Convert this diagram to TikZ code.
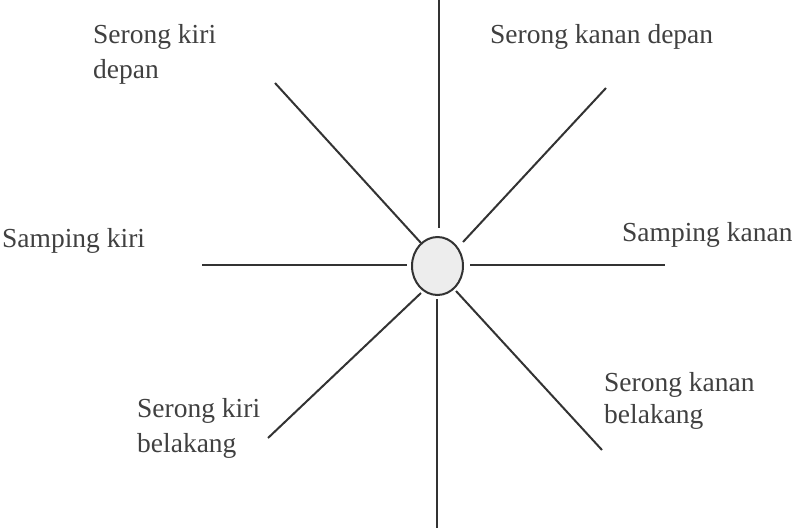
\documentclass[tikz,border=0pt]{standalone}
\usepackage{fontspec}
\setmainfont{Liberation Serif}
\usetikzlibrary{shapes.geometric}
\begin{document}
\begin{tikzpicture}[x=1pt,y=-1pt,
  ray/.style={draw=black!80, line width=2pt},
  lbl/.style={anchor=base west, inner sep=0pt, text=black!75, font=\fontsize{27.5}{34.5}\selectfont, align=left},
  hub/.style={ellipse, draw=black!80, line width=2pt, fill=black!7, minimum width=51pt, minimum height=58pt, inner sep=0pt}]
\useasboundingbox (0,0) rectangle (792,528);
\node[hub] (c) at (437.5,266) {};
% ray ends
\coordinate (tN) at (439,0);
\coordinate (tNb) at (439,228);
\coordinate (bS) at (437,528);
\coordinate (bSb) at (437,299);
\coordinate (lW) at (202,265);
\coordinate (lWb) at (407,265);
\coordinate (rE) at (665,265);
\coordinate (rEb) at (470,265);
\coordinate (uL) at (275,83);
\coordinate (uLb) at (421,243);
\coordinate (uR) at (606,88);
\coordinate (uRb) at (463,242);
\coordinate (dL) at (268,438);
\coordinate (dLb) at (421,293);
\coordinate (dR) at (602,450);
\coordinate (dRb) at (456,291);
\draw[ray] (tN) -- (tNb);
\draw[ray] (bSb) -- (bS);
\draw[ray] (lW) -- (lWb);
\draw[ray] (rEb) -- (rE);
\draw[ray] (uL) -- (uLb);
\draw[ray] (uR) -- (uRb);
\draw[ray] (dL) -- (dLb);
\draw[ray] (dRb) -- (dR);
% labels (anchor = baseline of last line)
\node[lbl] (a) at (93,78) {Serong kiri\\depan};
\node[lbl] (b) at (490,43) {Serong kanan depan};
\node[lbl] (d) at (2,247) {Samping kiri};
\node[lbl] (e) at (622,241) {Samping kanan};
\node[lbl, font=\fontsize{27.5}{31.5}\selectfont] (f) at (604,423) {Serong kanan\\belakang};
\node[lbl] (g) at (137,452) {Serong kiri\\belakang};
\end{tikzpicture}
\end{document}
